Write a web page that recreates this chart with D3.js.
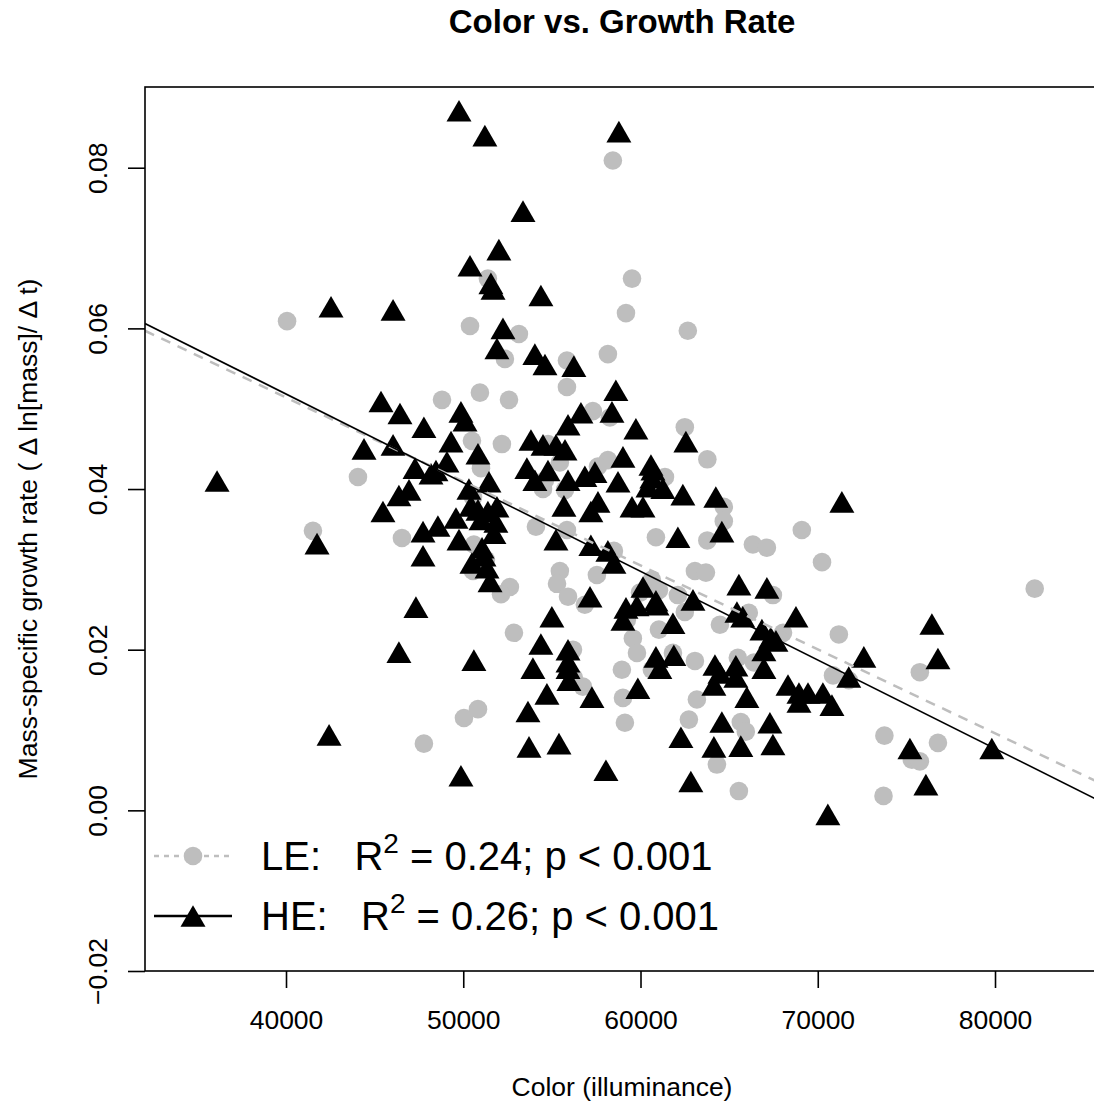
<!DOCTYPE html>
<html>
<head>
<meta charset="utf-8">
<script src="https://cdn.jsdelivr.net/npm/d3@7"></script>
<style>
  html, body { margin: 0; padding: 0; background: #fff; }
  svg { display: block; font-family: "Liberation Sans", Arial, Helvetica, sans-serif; }
</style>
</head>
<body>
<svg id="chart" width="1094" height="1105"></svg>
<script>
// Low-elevation (LE) fish: colour (illuminance) and mass-specific growth rate
const leColor = [58440,40060,59520,51390,50380,59180,62670,52350,58160,55850,53140,50940,48800,52580,55850,57310,62500,50490,52180,54780,55450,58160,63770,44060,51000,54610,57600,61380,64700,64700,54500,55740,41520,46540,50600,54100,55850,60870,66340,67130,69100,58500,50550,51280,55450,55290,63070,63690,60640,61040,62110,70240,82240,52630,52130,55910,56860,59970,67470,52860,57540,59230,59570,59800,61040,62500,64480,66110,68040,71190,61830,63070,65490,66400,63180,62730,65660,65940,59010,59120,50040,50830,47780,64310,65550,73760,73710,75310,75760,76780,75760,70860,71750,60640,58950,56240,56750,56190,63770,58270,50550];
const leGrowth = [0.0809,0.0609,0.0662,0.0662,0.0603,0.0619,0.0597,0.0562,0.0568,0.0560,0.0593,0.0520,0.0511,0.0511,0.0527,0.0497,0.0477,0.0460,0.0456,0.0456,0.0433,0.0436,0.0437,0.0415,0.0426,0.0411,0.0428,0.0415,0.0378,0.0360,0.0400,0.0399,0.0348,0.0339,0.0331,0.0353,0.0349,0.0340,0.0331,0.0327,0.0349,0.0323,0.0298,0.0312,0.0298,0.0282,0.0298,0.0296,0.0287,0.0274,0.0268,0.0309,0.0276,0.0278,0.0269,0.0266,0.0256,0.0271,0.0268,0.0221,0.0293,0.0237,0.0214,0.0196,0.0225,0.0247,0.0231,0.0246,0.0221,0.0219,0.0196,0.0186,0.0190,0.0184,0.0138,0.0113,0.0110,0.0098,0.0140,0.0109,0.0115,0.0126,0.0083,0.0057,0.0024,0.0093,0.0018,0.0063,0.0061,0.0084,0.0172,0.0168,0.0162,0.0175,0.0175,0.0165,0.0154,0.0200,0.0336,0.0489,0.0390];

// High-elevation (HE) fish
const heColor = [49760,51220,58780,53370,50380,52010,51560,51680,42540,46040,54380,52240,51900,54040,54610,56240,45360,46430,58610,49870,50100,58390,56640,44400,47780,59740,55910,53820,54500,55230,55740,49310,46040,62560,59010,49080,48460,47280,48180,53590,54780,57430,60590,60700,60640,56860,55910,58730,60420,61260,62390,64250,36110,50320,51450,46940,46370,50440,50830,51390,51900,45470,55680,57600,57200,59520,60140,71360,64590,49590,51000,51840,48570,47730,51730,49760,55230,57200,62110,41750,51060,58160,47730,51170,50490,51340,51510,58500,65550,67130,60140,60870,62960,57150,55000,59180,59800,60930,65440,65770,59010,47330,68770,76440,61830,66850,67350,67640,54380,72600,76780,55910,66960,61880,60870,46370,50600,64200,65380,55910,53930,55910,61090,66960,64480,71750,65380,55960,64140,68320,68940,69450,70290,54720,59850,68940,70800,66000,57260,53650,64590,67300,62280,42430,53710,55400,64140,65660,67470,75200,79820,58050,49870,62840,76100,70570,50830,54040];
const heGrowth = [0.0871,0.0840,0.0845,0.0746,0.0678,0.0698,0.0656,0.0649,0.0627,0.0623,0.0641,0.0600,0.0575,0.0568,0.0555,0.0553,0.0509,0.0494,0.0523,0.0496,0.0485,0.0496,0.0495,0.0450,0.0477,0.0475,0.0480,0.0461,0.0455,0.0455,0.0449,0.0459,0.0455,0.0459,0.0440,0.0434,0.0423,0.0426,0.0419,0.0426,0.0423,0.0421,0.0430,0.0424,0.0414,0.0416,0.0411,0.0409,0.0403,0.0401,0.0393,0.0390,0.0410,0.0400,0.0409,0.0399,0.0392,0.0379,0.0374,0.0372,0.0378,0.0372,0.0379,0.0384,0.0372,0.0378,0.0378,0.0384,0.0347,0.0364,0.0362,0.0359,0.0354,0.0347,0.0345,0.0337,0.0337,0.0330,0.0340,0.0332,0.0327,0.0323,0.0317,0.0317,0.0308,0.0302,0.0285,0.0308,0.0281,0.0277,0.0278,0.0261,0.0262,0.0266,0.0241,0.0252,0.0255,0.0256,0.0247,0.0241,0.0237,0.0253,0.0241,0.0232,0.0233,0.0225,0.0215,0.0211,0.0207,0.0191,0.0189,0.0200,0.0199,0.0193,0.0191,0.0197,0.0187,0.0181,0.0180,0.0185,0.0177,0.0177,0.0177,0.0177,0.0171,0.0166,0.0166,0.0162,0.0156,0.0156,0.0146,0.0146,0.0146,0.0145,0.0152,0.0135,0.0131,0.0141,0.0141,0.0123,0.0110,0.0109,0.0091,0.0094,0.0079,0.0083,0.0079,0.0080,0.0082,0.0077,0.0077,0.0050,0.0043,0.0036,0.0032,-0.0005,0.0444,0.0411];

// Least-squares fits: [intercept, slope]
const fitLE = [0.09319, -1.0449e-6];
const fitHE = [0.09597, -1.1035e-6];

// Axis ticks and legend text
const xTicks = [40000, 50000, 60000, 70000, 80000];
const yTicks = [-0.02, 0.00, 0.02, 0.04, 0.06, 0.08];
const legendGroups = ["LE", "HE"];
const legendR2 = ["0.24", "0.26"];
const legendP = ["0.001", "0.001"];

const LIGHT = "#bebebe";
const svg = d3.select("#chart");

const plot = { left: 145, right: 1099, top: 87, bottom: 971 };
const x = d3.scaleLinear().domain([32045, 85867]).range([plot.left, plot.right]);
const y = d3.scaleLinear().domain([-0.02, 0.09005]).range([plot.bottom, plot.top]);

// clip region for marks
svg.append("defs").append("clipPath").attr("id", "clip")
  .append("rect").attr("x", plot.left).attr("y", plot.top)
  .attr("width", plot.right - plot.left).attr("height", plot.bottom - plot.top);

const marks = svg.append("g").attr("clip-path", "url(#clip)");

// triangle symbol (filled, apex up)
const triPath = (cx, cy) => `M${cx},${cy - 10.8}L${cx + 12.5},${cy + 10.8}L${cx - 12.5},${cy + 10.8}Z`;

// LE points
marks.append("g").selectAll("circle")
  .data(d3.range(leColor.length))
  .join("circle")
  .attr("cx", i => x(leColor[i]))
  .attr("cy", i => y(leGrowth[i]))
  .attr("r", 9.3)
  .attr("fill", LIGHT);

// HE points
marks.append("g").selectAll("path")
  .data(d3.range(heColor.length))
  .join("path")
  .attr("d", i => triPath(x(heColor[i]), y(heGrowth[i])))
  .attr("fill", "#000");

// regression lines
const dom = x.domain();
const fitLine = f => dom.map(v => [x(v), y(f[0] + f[1] * v)]);
marks.append("path")
  .attr("d", d3.line()(fitLine(fitLE)))
  .attr("fill", "none").attr("stroke", LIGHT)
  .attr("stroke-width", 2.5).attr("stroke-dasharray", "10,8");
marks.append("path")
  .attr("d", d3.line()(fitLine(fitHE)))
  .attr("fill", "none").attr("stroke", "#000")
  .attr("stroke-width", 1.6);

// frame
svg.append("rect")
  .attr("x", plot.left).attr("y", plot.top)
  .attr("width", plot.right - plot.left).attr("height", plot.bottom - plot.top)
  .attr("fill", "none").attr("stroke", "#000").attr("stroke-width", 1.6);

// x axis
const xAxis = svg.append("g")
  .attr("transform", `translate(0,${plot.bottom})`)
  .call(d3.axisBottom(x).tickValues(xTicks).tickFormat(d3.format("d")).tickSize(17).tickPadding(22));
xAxis.select(".domain").remove();
xAxis.selectAll("line").attr("stroke", "#000").attr("stroke-width", 1.6);
xAxis.selectAll("text").attr("font-size", 26.5).attr("fill", "#000")
  .attr("font-family", "'Liberation Sans', Arial, sans-serif");

// y axis with rotated labels
const yAxis = svg.append("g")
  .attr("transform", `translate(${plot.left},0)`)
  .call(d3.axisLeft(y).tickValues(yTicks).tickFormat(d3.format(".2f")).tickSize(17));
yAxis.select(".domain").remove();
yAxis.selectAll("line").attr("stroke", "#000").attr("stroke-width", 1.6);
yAxis.selectAll("text").remove();
yAxis.selectAll(".tick").append("text")
  .attr("transform", "translate(-38,0) rotate(-90)")
  .attr("text-anchor", "middle")
  .attr("font-size", 26.5).attr("fill", "#000")
  .attr("font-family", "'Liberation Sans', Arial, sans-serif")
  .text(d => d3.format(".2f")(d));

// titles
svg.append("text")
  .attr("x", (plot.left + plot.right) / 2).attr("y", 33)
  .attr("text-anchor", "middle").attr("font-size", 33).attr("font-weight", "bold")
  .text("Color vs. Growth Rate");
svg.append("text")
  .attr("x", (plot.left + plot.right) / 2).attr("y", 1096)
  .attr("text-anchor", "middle").attr("font-size", 26.5)
  .text("Color (illuminance)");
svg.append("text")
  .attr("transform", `translate(37,${(plot.top + plot.bottom) / 2}) rotate(-90)`)
  .attr("text-anchor", "middle").attr("font-size", 26.5)
  .text("Mass-specific growth rate ( \u0394 ln[mass]/ \u0394 t)");

// legend
const legend = svg.append("g");
const rowY = [856, 916];
legendGroups.forEach((g, i) => {
  const row = legend.append("g").attr("transform", `translate(0,${rowY[i]})`);
  if (i === 0) {
    row.append("line").attr("x1", 154).attr("x2", 232).attr("y1", 0).attr("y2", 0)
      .attr("stroke", LIGHT).attr("stroke-width", 2.5).attr("stroke-dasharray", "5,5");
    row.append("circle").attr("cx", 193).attr("cy", 0).attr("r", 9.3).attr("fill", LIGHT);
  } else {
    row.append("line").attr("x1", 154).attr("x2", 232).attr("y1", 0).attr("y2", 0)
      .attr("stroke", "#000").attr("stroke-width", 2.5);
    row.append("path").attr("d", triPath(193, 0)).attr("fill", "#000");
  }
  const t = row.append("text").attr("x", 261).attr("y", 14)
    .attr("font-size", 40).attr("xml:space", "preserve").style("white-space", "pre");
  t.append("tspan").text(`${g}:   R`);
  t.append("tspan").attr("dy", -17).attr("font-size", 28).text("2");
  t.append("tspan").attr("dy", 17).text(` = ${legendR2[i]}; p < ${legendP[i]}`);
});
</script>
</body>
</html>
